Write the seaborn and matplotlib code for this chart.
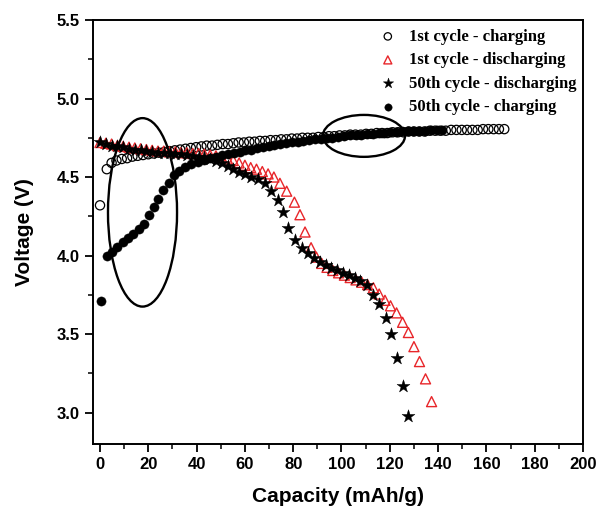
import matplotlib
matplotlib.use('Agg')
import matplotlib.pyplot as plt
from matplotlib.patches import Ellipse
from matplotlib.ticker import MultipleLocator
import seaborn as sns

sns.set_style('ticks')
plt.rcParams['font.family'] = ['Liberation Sans', 'DejaVu Sans']
plt.rcParams['font.weight'] = 'bold'
plt.rcParams['axes.labelweight'] = 'bold'
plt.rcParams['text.color'] = 'black'
plt.rcParams['axes.labelcolor'] = 'black'
plt.rcParams['xtick.color'] = 'black'
plt.rcParams['ytick.color'] = 'black'

# 1st cycle - charging (open circles)
cap_c1 = [0.0, 2.8, 4.8, 6.8, 9.0, 11.2, 13.4, 15.6, 17.8, 20.0, 22.2, 24.4, 26.6,
          28.8, 31.0, 33.2, 35.4, 37.6, 39.8, 42.0, 44.2, 46.4, 48.6, 50.8, 53.0,
          55.2, 57.4, 59.6, 61.8, 64.0, 66.2, 68.4, 70.6, 72.8, 75.0, 77.2, 79.4,
          81.6, 83.8, 86.0, 88.2, 90.4, 92.6, 94.8, 97.0, 99.2, 101.4, 103.6, 105.8,
          108.0, 110.2, 112.4, 114.6, 116.8, 119.0, 121.2, 123.4, 125.6, 127.8, 130.0,
          132.2, 134.4, 136.6, 138.8, 141.0, 143.2, 145.4, 147.6, 149.8, 152.0, 154.2,
          156.4, 158.6, 160.8, 163.0, 165.2, 167.4]
v_c1 = [4.32, 4.55, 4.59, 4.605, 4.615, 4.62, 4.63, 4.635, 4.64, 4.645,
        4.65, 4.655, 4.66, 4.665, 4.67, 4.675, 4.68, 4.685, 4.69, 4.695,
        4.70, 4.70, 4.705, 4.71, 4.71, 4.715, 4.72, 4.72, 4.725, 4.725,
        4.73, 4.73, 4.735, 4.735, 4.74, 4.74, 4.745, 4.745, 4.75, 4.75,
        4.75, 4.755, 4.755, 4.76, 4.76, 4.765, 4.765, 4.77, 4.77, 4.77,
        4.775, 4.775, 4.78, 4.78, 4.78, 4.785, 4.785, 4.785, 4.79, 4.79,
        4.79, 4.79, 4.795, 4.795, 4.795, 4.795, 4.80, 4.80, 4.80, 4.80,
        4.80, 4.80, 4.805, 4.805, 4.805, 4.805, 4.805]

# 1st cycle - discharging (red triangles)
cap_d1 = [0.0, 2.4, 4.8, 7.2, 9.6, 12.0, 14.4, 16.8, 19.2, 21.6, 24.0, 26.4, 28.8,
          31.2, 33.6, 36.0, 38.4, 40.8, 43.2, 45.6, 48.0, 50.4, 52.8, 55.2, 57.6,
          60.0, 62.4, 64.8, 67.2, 69.6, 72.0, 74.5, 77.3, 80.5, 82.8, 84.9, 87.4,
          89.6, 91.8, 94.0, 96.4, 98.8, 101.2, 103.6, 106.0, 108.4, 110.8, 113.2,
          115.6, 118.0, 120.3, 122.8, 125.3, 127.7, 130.0, 132.3, 134.8, 137.3]
v_d1 = [4.72, 4.715, 4.71, 4.70, 4.695, 4.69, 4.685, 4.68, 4.675, 4.67,
        4.665, 4.665, 4.66, 4.66, 4.655, 4.655, 4.65, 4.65, 4.645, 4.64,
        4.635, 4.625, 4.615, 4.605, 4.59, 4.575, 4.56, 4.55, 4.535, 4.52,
        4.50, 4.46, 4.41, 4.34, 4.26, 4.15, 4.05, 3.99, 3.95, 3.925,
        3.905, 3.89, 3.875, 3.86, 3.845, 3.83, 3.815, 3.795, 3.755, 3.715,
        3.68, 3.635, 3.575, 3.51, 3.42, 3.325, 3.215, 3.07]

# 50th cycle - discharging (stars)
cap_d50 = [0.0, 2.4, 4.8, 7.2, 9.6, 12.0, 14.4, 16.8, 19.2, 21.6, 24.0, 26.4, 28.8,
           31.2, 33.6, 36.0, 38.4, 40.8, 43.2, 45.6, 48.0, 50.4, 52.8, 55.2, 57.6,
           60.0, 62.7, 65.5, 68.3, 71.0, 73.6, 75.9, 78.0, 80.7, 83.5, 86.2, 88.6,
           91.0, 93.4, 95.8, 98.2, 100.6, 103.0, 105.4, 107.8, 110.4, 113.2, 115.7,
           118.4, 120.5, 122.8, 125.6, 127.7]
v_d50 = [4.72, 4.71, 4.70, 4.695, 4.69, 4.68, 4.675, 4.67, 4.665, 4.66,
         4.655, 4.65, 4.65, 4.645, 4.645, 4.64, 4.635, 4.63, 4.625, 4.615,
         4.60, 4.59, 4.57, 4.55, 4.535, 4.52, 4.50, 4.485, 4.46, 4.41,
         4.355, 4.28, 4.175, 4.10, 4.05, 4.015, 3.985, 3.96, 3.94, 3.92,
         3.905, 3.89, 3.875, 3.86, 3.84, 3.81, 3.75, 3.69, 3.60, 3.50,
         3.35, 3.17, 2.98]

# 50th cycle - charging (filled circles)
cap_c50 = [0.4, 2.8, 5.0, 7.2, 9.4, 11.6, 13.8, 16.0, 18.2, 20.2, 22.2, 24.2, 26.2,
           28.4, 30.6, 32.8, 35.2, 37.8, 40.4, 43.0, 45.6, 48.2, 50.6, 53.0, 55.4,
           57.8, 60.2, 62.6, 65.0, 67.4, 69.8, 72.2, 74.6, 77.0, 79.4, 81.8, 84.2,
           86.6, 89.0, 91.4, 93.8, 96.2, 98.6, 101.0, 103.4, 105.8, 108.2, 110.6,
           113.0, 115.4, 117.8, 120.2, 122.6, 125.0, 127.4, 129.8, 132.2, 134.6,
           137.0, 139.4, 141.8]
v_c50 = [3.71, 4.00, 4.025, 4.055, 4.085, 4.11, 4.14, 4.17, 4.20, 4.26,
         4.31, 4.36, 4.42, 4.465, 4.51, 4.54, 4.565, 4.58, 4.595, 4.61,
         4.62, 4.63, 4.64, 4.645, 4.655, 4.66, 4.67, 4.675, 4.685, 4.69,
         4.70, 4.705, 4.71, 4.715, 4.72, 4.725, 4.73, 4.735, 4.74, 4.745,
         4.75, 4.75, 4.755, 4.76, 4.765, 4.765, 4.77, 4.775, 4.775, 4.78,
         4.78, 4.785, 4.785, 4.79, 4.79, 4.795, 4.795, 4.795, 4.80, 4.80,
         4.80]

fig = plt.figure(figsize=(6.02, 5.11), dpi=100)
ax = fig.add_axes([0.1545, 0.1311, 0.8139, 0.8298])

sns.scatterplot(x=cap_c1, y=v_c1, ax=ax, marker='o', s=44, facecolor='none',
                edgecolor='black', linewidth=0.9, label='1st cycle - charging')
sns.scatterplot(x=cap_d1, y=v_d1, ax=ax, marker='^', s=52, facecolor='none',
                edgecolor='#e8262a', linewidth=1.0, label='1st cycle - discharging')
sns.scatterplot(x=cap_d50, y=v_d50, ax=ax, marker='*', s=95, color='black',
                edgecolor='black', linewidth=0.3, label='50th cycle - discharging')
sns.scatterplot(x=cap_c50, y=v_c50, ax=ax, marker='o', s=44, color='black',
                edgecolor='black', linewidth=0.3, label='50th cycle - charging')

# highlight ellipses
ax.add_patch(Ellipse((17.6, 4.275), 28.6, 1.20, fill=False, edgecolor='black', linewidth=1.7))
ax.add_patch(Ellipse((109.3, 4.762), 34.0, 0.267, fill=False, edgecolor='black', linewidth=1.7))

ax.set_xlim(-2.9, 200)
ax.set_ylim(2.8, 5.5)
ax.xaxis.set_major_locator(MultipleLocator(20))
ax.xaxis.set_minor_locator(MultipleLocator(10))
ax.yaxis.set_major_locator(MultipleLocator(0.5))
ax.yaxis.set_minor_locator(MultipleLocator(0.25))
ax.yaxis.set_major_formatter(matplotlib.ticker.FormatStrFormatter('%.1f'))
ax.tick_params(which='major', direction='out', length=6, width=1.3, labelsize=12,
               top=False, right=False, colors='black')
ax.tick_params(which='minor', direction='out', length=3.5, width=1.1, top=False, right=False,
               colors='black')
for lab in ax.get_xticklabels() + ax.get_yticklabels():
    lab.set_fontweight('bold')
for sp in ax.spines.values():
    sp.set_visible(True)
    sp.set_linewidth(1.4)
    sp.set_color('black')

ax.set_xlabel('Capacity (mAh/g)', fontsize=15, labelpad=11, color='black')
ax.set_ylabel('Voltage (V)', fontsize=15, labelpad=16, color='black')

ax.legend(loc='upper right', bbox_to_anchor=(1.0, 0.995), frameon=False,
          borderaxespad=0.0, handlelength=1.0, handletextpad=0.76, labelspacing=0.45,
          markerscale=0.8,
          prop={'family': 'Liberation Serif', 'weight': 'bold', 'size': 12})

fig.savefig('out.png', dpi=100)
